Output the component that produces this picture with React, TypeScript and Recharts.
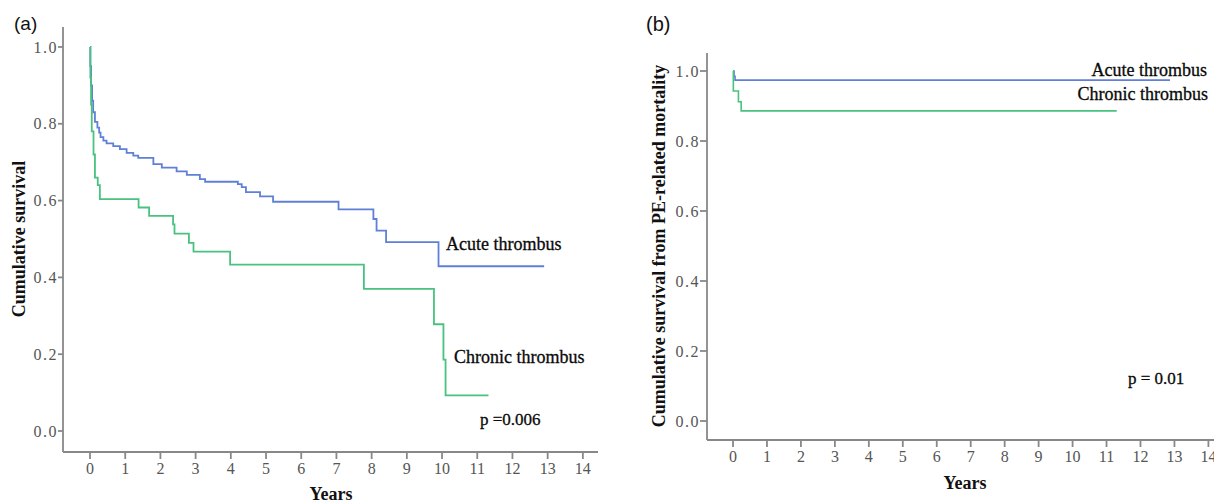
import React from "react";
import { LineChart, Line, XAxis, YAxis } from "recharts";

// Panel (a): overall survival
const acuteA_t = [0, 0.01, 0.03, 0.06, 0.09, 0.14, 0.21, 0.26, 0.3, 0.38, 0.47, 0.66, 0.85, 1.04, 1.23, 1.37, 1.8, 2.04, 2.46, 2.75, 3.12, 3.27, 4.2, 4.31, 4.43, 4.83, 5.2, 7.06, 8.05, 8.14, 8.41, 9.9, 12.9];
const acuteA_s = [1.0, 0.95, 0.9, 0.86, 0.83, 0.805, 0.79, 0.777, 0.765, 0.756, 0.749, 0.742, 0.734, 0.724, 0.717, 0.711, 0.695, 0.686, 0.676, 0.667, 0.656, 0.649, 0.643, 0.635, 0.622, 0.611, 0.597, 0.577, 0.552, 0.522, 0.492, 0.429, 0.429];
const chronicA_t = [0, 0.01, 0.03, 0.05, 0.1, 0.14, 0.22, 0.28, 1.38, 1.68, 2.36, 2.4, 2.81, 2.94, 3.98, 7.78, 9.77, 10.04, 10.1, 11.32];
const chronicA_s = [1.0, 0.92, 0.85, 0.78, 0.72, 0.66, 0.64, 0.604, 0.582, 0.56, 0.538, 0.514, 0.49, 0.467, 0.433, 0.37, 0.278, 0.186, 0.093, 0.093];

// Panel (b): survival from PE-related mortality
const acuteB_t = [0, 0.03, 0.06, 12.87];
const acuteB_s = [1.0, 0.985, 0.974, 0.974];
const chronicB_t = [0, 0.01, 0.16, 0.24, 11.3];
const chronicB_s = [1.0, 0.943, 0.912, 0.886, 0.886];

const xTicks = [0, 1, 2, 3, 4, 5, 6, 7, 8, 9, 10, 11, 12, 13, 14];
const yTicks = [0, 0.2, 0.4, 0.6, 0.8, 1.0];

const zip = (t: number[], s: number[]) => t.map((v, i) => ({ t: v, s: s[i] }));
const acuteA = zip(acuteA_t, acuteA_s);
const chronicA = zip(chronicA_t, chronicA_s);
const acuteB = zip(acuteB_t, acuteB_s);
const chronicB = zip(chronicB_t, chronicB_s);

const BLUE = "#5f80d6";
const GREEN = "#49c27f";
const AXIS = "#888";
const SERIF = "'Liberation Serif', 'Times New Roman', serif";
const SANS = "'Liberation Sans', Arial, sans-serif";

const tickStyle = { fill: "#555", fontSize: 16, fontFamily: SERIF };
const yTickStyle = { fill: "#555", fontSize: 16, fontFamily: SERIF, letterSpacing: 1.5 };

export default function App() {
  return (
    <div style={{ position: "absolute", left: 0, top: 0, width: 1214, height: 503, overflow: "hidden", background: "#fff" }}>
      <div style={{ position: "absolute", left: 0, top: 0 }}>
        <LineChart width={620} height={503} margin={{ top: 27, right: 22, bottom: 21, left: 13 }}>
          <XAxis
            type="number"
            dataKey="t"
            domain={[-0.767, 14.43]}
            ticks={xTicks}
            allowDataOverflow
            stroke={AXIS}
            strokeWidth={1.8}
            tickSize={7}
            tickMargin={4}
            tick={tickStyle}
            height={30}
          />
          <YAxis
            type="number"
            domain={[-0.0547, 1.052]}
            ticks={yTicks}
            allowDataOverflow
            stroke={AXIS}
            strokeWidth={1.8}
            tickSize={5}
            tickMargin={0}
            tick={yTickStyle}
            tickFormatter={(v: number) => v.toFixed(1)}
            width={50}
          />
          <Line data={acuteA} dataKey="s" type="stepAfter" stroke={BLUE} strokeWidth={1.8} dot={false} isAnimationActive={false} />
          <Line data={chronicA} dataKey="s" type="stepAfter" stroke={GREEN} strokeWidth={1.8} dot={false} isAnimationActive={false} />
        </LineChart>
      </div>
      <div style={{ position: "absolute", left: 620, top: 0 }}>
        <LineChart width={610} height={503} margin={{ top: 53, right: 7, bottom: 33, left: 37 }}>
          <XAxis
            type="number"
            dataKey="t"
            domain={[-0.766, 14.43]}
            ticks={xTicks}
            allowDataOverflow
            stroke={AXIS}
            strokeWidth={1.8}
            tickSize={7}
            tickMargin={4}
            tick={tickStyle}
            height={30}
          />
          <YAxis
            type="number"
            domain={[-0.0543, 1.0514]}
            ticks={yTicks}
            allowDataOverflow
            stroke={AXIS}
            strokeWidth={1.8}
            tickSize={7}
            tickMargin={0}
            tick={yTickStyle}
            tickFormatter={(v: number) => v.toFixed(1)}
            width={50}
          />
          <Line data={acuteB} dataKey="s" type="stepAfter" stroke={BLUE} strokeWidth={1.6} dot={false} isAnimationActive={false} />
          <Line data={chronicB} dataKey="s" type="stepAfter" stroke={GREEN} strokeWidth={1.6} dot={false} isAnimationActive={false} />
        </LineChart>
      </div>
      <svg width={1214} height={503} style={{ position: "absolute", left: 0, top: 0, pointerEvents: "none" }}>
        <text x={14} y={30} fontFamily={SANS} fontSize={19} fill="#111">(a)</text>
        <text x={646} y={31} fontFamily={SANS} fontSize={20} fill="#111">(b)</text>

        <text transform="translate(24.5,239) rotate(-90)" textAnchor="middle" fontFamily={SERIF} fontSize={18} fontWeight="bold" fill="#111">Cumulative survival</text>
        <text x={331} y={500} textAnchor="middle" fontFamily={SERIF} fontSize={18} fontWeight="bold" fill="#111">Years</text>
        <text x={446} y={250} fontFamily={SERIF} fontSize={18} fill="#0a0a0a" stroke="#0a0a0a" strokeWidth={0.3}>Acute thrombus</text>
        <text x={454} y={363} fontFamily={SERIF} fontSize={18} fill="#0a0a0a" stroke="#0a0a0a" strokeWidth={0.3}>Chronic thrombus</text>
        <text x={480} y={425} fontFamily={SERIF} fontSize={17} fill="#0a0a0a" stroke="#0a0a0a" strokeWidth={0.3}>p =0.006</text>

        <text transform="translate(665,246) rotate(-90)" textAnchor="middle" fontFamily={SERIF} fontSize={18} fontWeight="bold" fill="#111">Cumulative survival from PE-related mortality</text>
        <text x={965} y={489} textAnchor="middle" fontFamily={SERIF} fontSize={18} fontWeight="bold" fill="#111">Years</text>
        <text x={1207} y={76} textAnchor="end" fontFamily={SERIF} fontSize={18} fill="#0a0a0a" stroke="#0a0a0a" strokeWidth={0.3}>Acute thrombus</text>
        <text x={1208} y={100} textAnchor="end" fontFamily={SERIF} fontSize={18} fill="#0a0a0a" stroke="#0a0a0a" strokeWidth={0.3}>Chronic thrombus</text>
        <text x={1128} y={384} fontFamily={SERIF} fontSize={17} fill="#0a0a0a" stroke="#0a0a0a" strokeWidth={0.3}>p = 0.01</text>
      </svg>
    </div>
  );
}
